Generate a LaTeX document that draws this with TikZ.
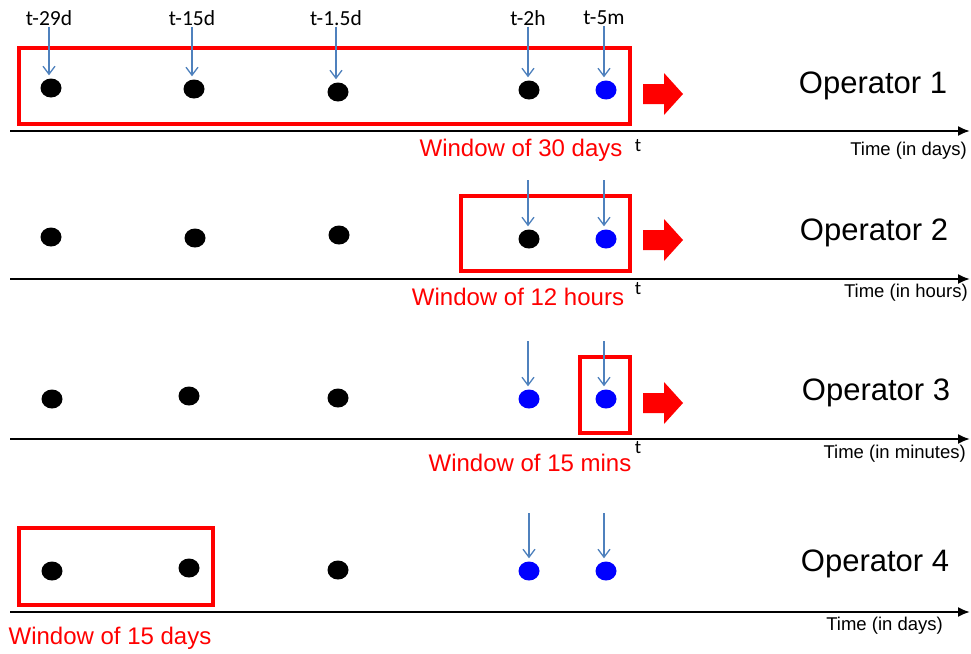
\documentclass[tikz,border=0pt]{standalone}
\usepackage{fontspec}
\setmainfont{Liberation Sans}
\newfontfamily\calibfont{Carlito}
\usetikzlibrary{arrows.meta,shapes.geometric}

\definecolor{pointblue}{RGB}{79,129,189}

\tikzset{
	dot/.style={ellipse,fill=black,minimum width=21pt,minimum height=19pt,inner sep=0pt},
	bluedot/.style={dot,fill=blue},
	pointer/.style={draw=pointblue,line width=1.3pt,-{Straight Barb[length=8pt,width=12pt]},shorten >=3pt},
	timeaxis/.style={line width=2pt,-{Latex[length=12pt,width=10pt]}},
	window/.style={draw=red,line width=3.3pt},
	toplabel/.style={font=\calibfont\fontsize{21.5}{24}\selectfont,inner sep=1pt},
	nowlabel/.style={font=\calibfont\fontsize{19}{21}\selectfont,inner sep=0pt},
	oplabel/.style={font=\fontsize{31}{36}\selectfont},
	winlabel/.style={text=red,font=\fontsize{24}{28}\selectfont,inner sep=0pt},
	timelabel/.style={anchor=east,font=\fontsize{18.5}{21}\selectfont,inner sep=0pt}
}

\begin{document}
\begin{tikzpicture}[x=1pt,y=-1pt]
	
	\useasboundingbox (0,0) rectangle (971,653);
	
	% Operator 1: window of 30 days
	\draw[window] (19,48) rectangle (630,124);
	\node[dot] (d1) at (51,88) {};
	\node[dot] (d2) at (194,89) {};
	\node[dot] (d3) at (338,92) {};
	\node[dot] (d4) at (529,90) {};
	\node[bluedot] (d5) at (606,90) {};
	\node[toplabel] (l1) at (49,18) {t-29d};
	\node[toplabel] (l2) at (192,18) {t-15d};
	\node[toplabel] (l3) at (336,18) {t-1.5d};
	\node[toplabel] (l4) at (528,18) {t-2h};
	\node[toplabel] (l5) at (604,18) {t-5m};
	\draw[pointer] (l1) -- (l1 |- d1.north);
	\draw[pointer] (l2) -- (l2 |- d2.north);
	\draw[pointer] (l3) -- (l3 |- d3.north);
	\draw[pointer] (l4) -- (l4 |- d4.north);
	\draw[pointer] (l5) -- (l5 |- d5.north);
	\coordinate (a1w) at (10,131);
	\coordinate (a1e) at (970,131);
	\draw[timeaxis] (a1w) -- (a1e);
	\node[winlabel] (w1) at (521,150) {Window of 30 days};
	\node[nowlabel] (t1) at (638,146) {t};
	\node[oplabel] (op1) at (873,86) {Operator 1};
	\node[timelabel] (tm1) at (967,151) {Time (in days)};
	
	% Operator 2: window of 12 hours
	\draw[window] (461,196) rectangle (630,271);
	\node[dot] (e1) at (51,237) {};
	\node[dot] (e2) at (195,238) {};
	\node[dot] (e3) at (339,235) {};
	\node[dot] (e4) at (529,239) {};
	\node[bluedot] (e5) at (606,239) {};
	\coordinate (p4) at (528,180);
	\coordinate (p5) at (604,180);
	\draw[pointer] (p4) -- (p4 |- e4.north);
	\draw[pointer] (p5) -- (p5 |- e5.north);
	\coordinate (a2w) at (10,279);
	\coordinate (a2e) at (970,279);
	\draw[timeaxis] (a2w) -- (a2e);
	\node[winlabel] (w2) at (518,297) {Window of 12 hours};
	\node[nowlabel] (t2) at (638,289) {t};
	\node[oplabel] (op2) at (874,233) {Operator 2};
	\node[timelabel] (tm2) at (968,293) {Time (in hours)};
	
	% Operator 3: window of 15 mins
	\draw[window] (580,357) rectangle (630,433);
	\node[dot] (f1) at (52,399) {};
	\node[dot] (f2) at (189,396) {};
	\node[dot] (f3) at (338,398) {};
	\node[bluedot] (f4) at (529,399) {};
	\node[bluedot] (f5) at (606,399) {};
	\coordinate (q4) at (528,341);
	\coordinate (q5) at (604,341);
	\draw[pointer] (q4) -- (q4 |- f4.north);
	\draw[pointer] (q5) -- (q5 |- f5.north);
	\coordinate (a3w) at (10,439);
	\coordinate (a3e) at (970,439);
	\draw[timeaxis] (a3w) -- (a3e);
	\node[winlabel] (w3) at (530,463) {Window of 15 mins};
	\node[nowlabel] (t3) at (638,448) {t};
	\node[oplabel] (op3) at (876,393) {Operator 3};
	\node[timelabel] (tm3) at (966,454) {Time (in minutes)};
	
	% Operator 4: window of 15 days
	\draw[window] (19,528) rectangle (213,605);
	\node[dot] (g1) at (52,571) {};
	\node[dot] (g2) at (189,568) {};
	\node[dot] (g3) at (338,570) {};
	\node[bluedot] (g4) at (529,571) {};
	\node[bluedot] (g5) at (606,571) {};
	\coordinate (r4) at (529,513);
	\coordinate (r5) at (604,513);
	\draw[pointer] (r4) -- (r4 |- g4.north);
	\draw[pointer] (r5) -- (r5 |- g5.north);
	\coordinate (a4w) at (10,612);
	\coordinate (a4e) at (970,612);
	\draw[timeaxis] (a4w) -- (a4e);
	\node[winlabel] (w4) at (110,638) {Window of 15 days};
	\node[oplabel] (op4) at (875,564) {Operator 4};
	\node[timelabel] (tm4) at (943,626) {Time (in days)};
	
	% Red block arrows (sliding windows)
	\foreach \y in {94,240,403} {
		\fill[red] (643,\y-10) -- (664,\y-10) -- (664,\y-21) -- (683,\y)
		-- (664,\y+21) -- (664,\y+10) -- (643,\y+10) -- cycle;
	}
	
\end{tikzpicture}
\end{document}
